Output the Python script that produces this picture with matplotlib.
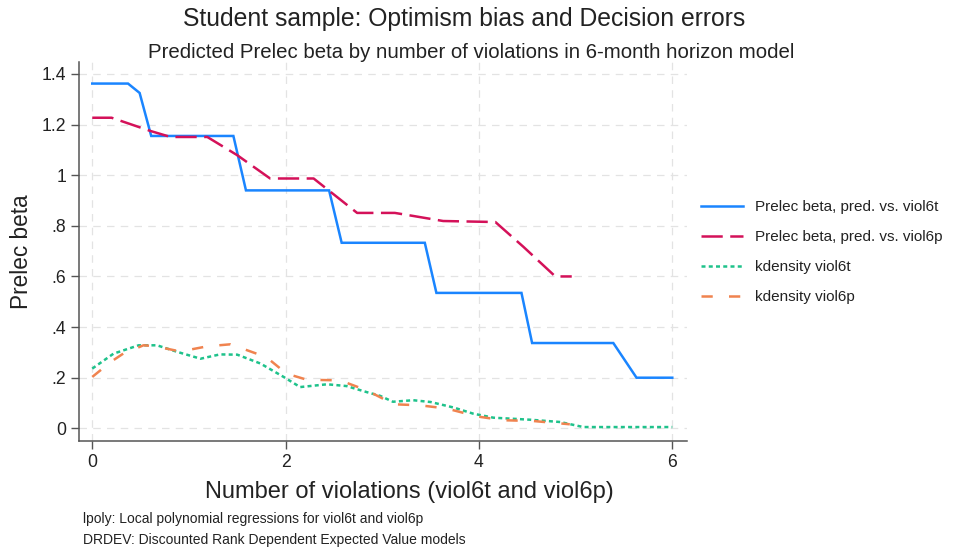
import matplotlib
matplotlib.use("Agg")
import matplotlib.pyplot as plt

plt.rcParams['font.family'] = ['Liberation Sans', 'DejaVu Sans']

# Data
x_pred6t = [0, 0.37, 0.49, 0.61, 1.46, 1.59, 2.45, 2.58, 3.44, 3.56, 4.44, 4.55, 5.39, 5.63, 6.0]
beta_pred6t = [1.362, 1.362, 1.325, 1.155, 1.155, 0.94, 0.94, 0.733, 0.733, 0.535, 0.535, 0.337, 0.337, 0.2, 0.2]

x_pred6p = [0, 0.2, 0.6, 0.81, 1.19, 1.50, 1.84, 2.29, 2.74, 3.13, 3.32, 3.63, 4.17, 4.46, 4.79, 4.96]
beta_pred6p = [1.227, 1.227, 1.175, 1.151, 1.151, 1.079, 0.987, 0.987, 0.851, 0.851, 0.839, 0.819, 0.815, 0.717, 0.6, 0.6]

x_kd6t = [0.0, 0.22, 0.48, 0.67, 0.88, 1.12, 1.32, 1.50, 1.74, 1.98, 2.15, 2.43, 2.63, 2.84, 2.98,
          3.11, 3.32, 3.5, 3.74, 3.94, 4.15, 4.53, 4.84, 5.08, 5.5, 6.0]
dens_kd6t = [0.236, 0.295, 0.328, 0.328, 0.302, 0.275, 0.292, 0.291, 0.256, 0.203, 0.163, 0.174, 0.167, 0.143, 0.128,
             0.105, 0.111, 0.104, 0.082, 0.058, 0.042, 0.034, 0.025, 0.005, 0.005, 0.005]

x_kd6p = [0.0, 0.19, 0.32, 0.53, 0.64, 0.88, 1.0, 1.19, 1.43, 1.70, 1.84, 2.01, 2.22, 2.50, 2.63, 2.84,
          3.12, 3.39, 3.67, 3.98, 4.25, 4.56, 4.94]
dens_kd6p = [0.203, 0.262, 0.295, 0.328, 0.325, 0.306, 0.31, 0.324, 0.332, 0.295, 0.269, 0.216, 0.192, 0.19, 0.18, 0.15,
             0.095, 0.091, 0.078, 0.047, 0.032, 0.029, 0.016]

labels = ["Prelec beta, pred. vs. viol6t", "Prelec beta, pred. vs. viol6p",
          "kdensity viol6t", "kdensity viol6p"]
yticks = [0, 0.2, 0.4, 0.6, 0.8, 1.0, 1.2, 1.4]
yticklabels = ["0", ".2", ".4", ".6", ".8", "1", "1.2", "1.4"]
xticks = [0, 2, 4, 6]

fig = plt.figure(figsize=(9.6, 5.54), dpi=100)
ax = fig.add_axes([0.0826, 0.204, 0.6327, 0.684])

lw = 1.8
ax.plot(x_pred6t, beta_pred6t, color="#1A85FF", lw=lw, label=labels[0], solid_joinstyle='miter')
ax.plot(x_pred6p, beta_pred6p, color="#D41159", lw=lw, dashes=(8.5, 3), label=labels[1])
ax.plot(x_kd6t, dens_kd6t, color="#1FC28B", lw=lw, dashes=(1.6, 1.3), label=labels[2])
ax.plot(x_kd6p, dens_kd6p, color="#F0834F", lw=lw, dashes=(4.5, 6.5), label=labels[3])

ax.set_xlim(-0.134, 6.149)
ax.set_ylim(-0.05, 1.447)
ax.set_xticks(xticks)
ax.set_xticklabels([str(t) for t in xticks])
ax.set_yticks(yticks)
ax.set_yticklabels(yticklabels)

ax.grid(True, color="#E3E3E3", linestyle=(0, (6, 5)), linewidth=0.9)
ax.set_axisbelow(True)
for s in ["top", "right"]:
    ax.spines[s].set_visible(False)
for s in ["left", "bottom"]:
    ax.spines[s].set_color("#555555")
    ax.spines[s].set_linewidth(1.1)
ax.tick_params(axis='both', length=5.5, width=1.0, color="#555555", labelsize=12.7,
               labelcolor="#222222", pad=4)

ax.set_ylabel("Prelec beta", fontsize=16.3, color="#222222", labelpad=6)
fig.text(409 / 960, 1 - 492 / 554, "Number of violations (viol6t and viol6p)",
         ha="center", va="center", fontsize=17, color="#222222")

fig.text(464 / 960, 1 - 19 / 554, "Student sample: Optimism bias and Decision errors",
         ha="center", va="center", fontsize=17.8, color="#222222")
fig.text(471 / 960, 1 - 52 / 554, "Predicted Prelec beta by number of violations in 6-month horizon model",
         ha="center", va="center", fontsize=14.7, color="#222222")

fig.text(83 / 960, 1 - 519 / 554, "lpoly: Local polynomial regressions for viol6t and viol6p",
         ha="left", va="center", fontsize=10, color="#222222")
fig.text(83 / 960, 1 - 540 / 554, "DRDEV: Discounted Rank Dependent Expected Value models",
         ha="left", va="center", fontsize=10, color="#222222")

leg = fig.legend(loc="center left", bbox_to_anchor=(701 / 960, 1 - 252 / 554),
                 bbox_transform=fig.transFigure, frameon=False, fontsize=11,
                 handlelength=2.75, handletextpad=0.8, labelspacing=1.05,
                 borderpad=0, borderaxespad=0)
for t in leg.get_texts():
    t.set_color("#222222")

fig.savefig("out.png", dpi=100)
